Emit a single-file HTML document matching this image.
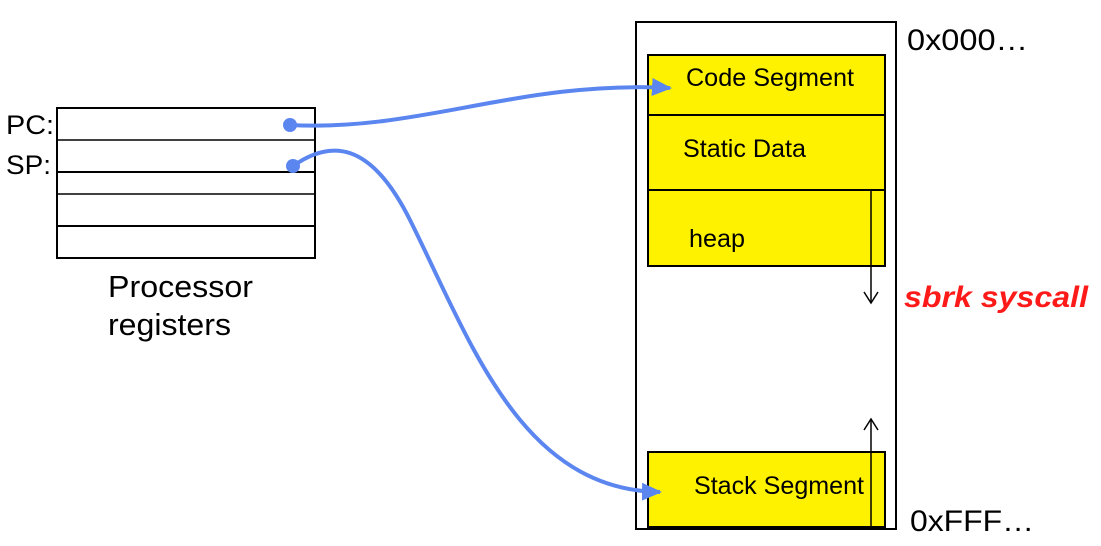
<!DOCTYPE html>
<html><head><style>
body{margin:0;background:#fff;}
svg{display:block;}
text{font-family:"Liberation Sans",sans-serif;}
</style></head><body>
<svg width="1101" height="546" viewBox="0 0 1101 546">
<defs>
<marker id="ah" markerWidth="20" markerHeight="18" refX="18" refY="9" orient="auto" markerUnits="userSpaceOnUse"><path d="M0,0 L20,9 L0,18 z" fill="#5b86f0"/></marker>
</defs>
<!-- registers -->
<rect x="57" y="108" width="258" height="150" fill="#fff" stroke="#000" stroke-width="2"/>
<line x1="57" y1="140" x2="315" y2="140" stroke="#000" stroke-width="1.5"/>
<line x1="57" y1="172" x2="315" y2="172" stroke="#000" stroke-width="2"/>
<line x1="57" y1="194" x2="315" y2="194" stroke="#000" stroke-width="1.5"/>
<line x1="57" y1="226" x2="315" y2="226" stroke="#000" stroke-width="2"/>
<text x="6" y="134" font-size="27" textLength="48" lengthAdjust="spacingAndGlyphs">PC:</text>
<text x="6" y="174" font-size="27" textLength="45" lengthAdjust="spacingAndGlyphs">SP:</text>
<text x="108" y="297" font-size="31" textLength="145" lengthAdjust="spacingAndGlyphs">Processor</text>
<text x="108" y="335" font-size="31" textLength="123" lengthAdjust="spacingAndGlyphs">registers</text>
<!-- memory -->
<rect x="636" y="22" width="260" height="507" fill="#fff" stroke="#000" stroke-width="2"/>
<rect x="648" y="55" width="237" height="211" fill="#fff200" stroke="#000" stroke-width="2"/>
<line x1="648" y1="115" x2="885" y2="115" stroke="#000" stroke-width="2"/>
<line x1="648" y1="190" x2="885" y2="190" stroke="#000" stroke-width="2"/>
<rect x="648" y="452" width="237" height="75" fill="#fff200" stroke="#000" stroke-width="2"/>
<text x="686" y="86" font-size="25" textLength="168" lengthAdjust="spacingAndGlyphs">Code Segment</text>
<text x="683" y="157" font-size="25" textLength="123" lengthAdjust="spacingAndGlyphs">Static Data</text>
<text x="689" y="247" font-size="25" textLength="56" lengthAdjust="spacingAndGlyphs">heap</text>
<text x="694" y="494" font-size="25" textLength="170" lengthAdjust="spacingAndGlyphs">Stack Segment</text>
<text x="907" y="50" font-size="30" textLength="121" lengthAdjust="spacingAndGlyphs">0x000…</text>
<text x="910" y="531" font-size="30" textLength="124" lengthAdjust="spacingAndGlyphs">0xFFF…</text>
<text x="904" y="307" font-size="30" font-weight="bold" font-style="italic" fill="#ff1a1a" textLength="184" lengthAdjust="spacingAndGlyphs">sbrk syscall</text>
<!-- heap/stack arrows -->
<line x1="871" y1="190" x2="871" y2="302" stroke="#000" stroke-width="1.5"/>
<path d="M864,292 L871,303 L878,292" fill="none" stroke="#000" stroke-width="1.5"/>
<line x1="871" y1="527" x2="871" y2="420" stroke="#000" stroke-width="1.5"/>
<path d="M864,430 L871,419 L878,430" fill="none" stroke="#000" stroke-width="1.5"/>
<!-- connectors -->
<circle cx="290" cy="125" r="7" fill="#5b86f0"/>
<path d="M290,125 C420,132 520,80 670,88" fill="none" stroke="#5b86f0" stroke-width="4" marker-end="url(#ah)"/>
<circle cx="293" cy="166" r="7" fill="#5b86f0"/>
<path d="M293,166 C330,140 370,140 410,220 C470,340 520,490 660,492" fill="none" stroke="#5b86f0" stroke-width="4" marker-end="url(#ah)"/>
</svg>
</body></html>
